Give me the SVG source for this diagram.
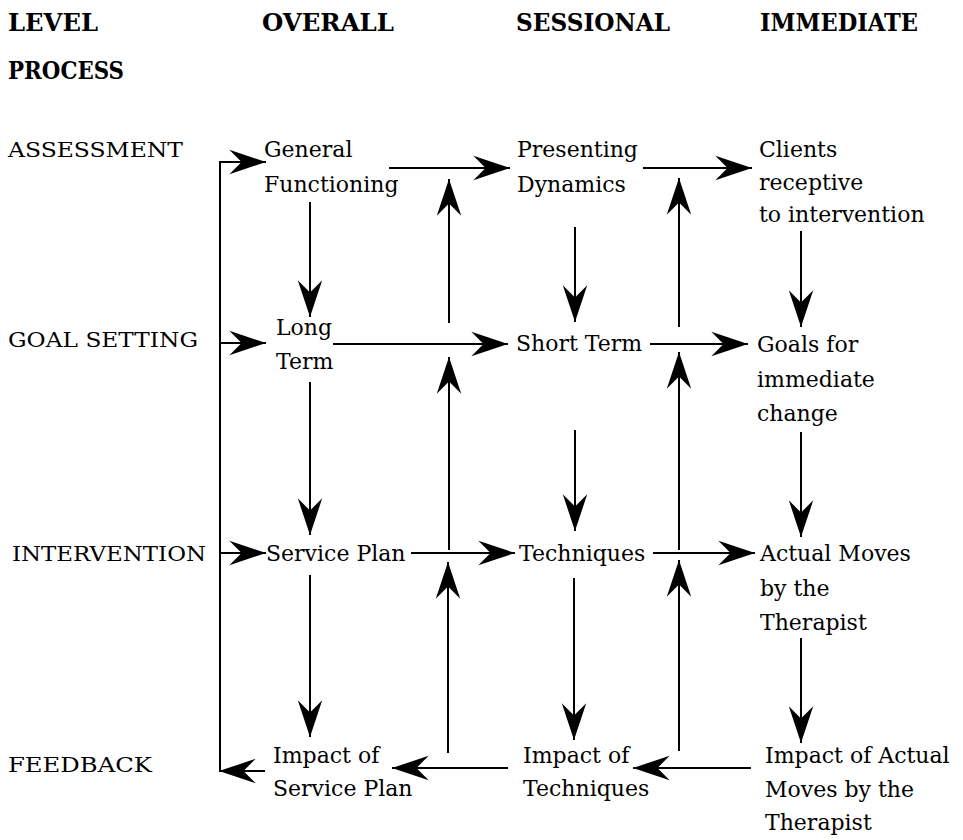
<svg xmlns="http://www.w3.org/2000/svg" width="963" height="840" viewBox="0 0 963 840">
<style>
.hd{font-family:"DejaVu Serif Condensed","DejaVu Serif","Liberation Serif",serif;font-weight:bold;font-size:25px;fill:#000}
.lb{font-family:"DejaVu Serif","Liberation Serif",serif;font-size:21px;fill:#000}
.tx{font-family:"DejaVu Serif","Liberation Serif",serif;font-size:22px;fill:#000}
.ln{stroke:#000;stroke-width:2;fill:none}
</style>
<defs>
<marker id="ah" markerUnits="userSpaceOnUse" markerWidth="40" markerHeight="30" viewBox="-34 -12 36 24" refX="0" refY="0" orient="auto">
<path d="M0,0 L-33,-11 L-22,0 L-33,11 Z" fill="#000"/>
</marker>
</defs>
<rect width="963" height="840" fill="#fff"/>
<g id="headers">
<text class="hd" x="8" y="31" textLength="90" lengthAdjust="spacingAndGlyphs">LEVEL</text>
<text class="hd" x="262" y="31" textLength="132" lengthAdjust="spacingAndGlyphs">OVERALL</text>
<text class="hd" x="516" y="31" textLength="154" lengthAdjust="spacingAndGlyphs">SESSIONAL</text>
<text class="hd" x="760" y="31" textLength="158" lengthAdjust="spacingAndGlyphs">IMMEDIATE</text>
<text class="hd" x="8" y="79" textLength="116" lengthAdjust="spacingAndGlyphs">PROCESS</text>
</g>
<g id="levels">
<text class="lb" x="8" y="157" textLength="175" lengthAdjust="spacingAndGlyphs">ASSESSMENT</text>
<text class="lb" x="8" y="347" textLength="190" lengthAdjust="spacingAndGlyphs">GOAL SETTING</text>
<text class="lb" x="12" y="561" textLength="194" lengthAdjust="spacingAndGlyphs">INTERVENTION</text>
<text class="lb" x="8" y="772" textLength="144" lengthAdjust="spacingAndGlyphs">FEEDBACK</text>
</g>
<g id="general-functioning"><text class="tx" x="264" y="157">General</text><text class="tx" x="264" y="192">Functioning</text></g>
<g id="presenting-dynamics"><text class="tx" x="517" y="157">Presenting</text><text class="tx" x="517" y="192">Dynamics</text></g>
<g id="clients-receptive"><text class="tx" x="759" y="157">Clients</text><text class="tx" x="759" y="190">receptive</text><text class="tx" x="759" y="222">to intervention</text></g>
<g id="long-term"><text class="tx" x="276" y="335">Long</text><text class="tx" x="276" y="369">Term</text></g>
<g id="short-term"><text class="tx" x="516" y="351">Short Term</text></g>
<g id="goals-immediate"><text class="tx" x="757" y="352">Goals for</text><text class="tx" x="757" y="387">immediate</text><text class="tx" x="757" y="421">change</text></g>
<g id="service-plan"><text class="tx" x="266" y="561">Service Plan</text></g>
<g id="techniques"><text class="tx" x="519" y="561">Techniques</text></g>
<g id="actual-moves"><text class="tx" x="760" y="561">Actual Moves</text><text class="tx" x="760" y="596">by the</text><text class="tx" x="760" y="630">Therapist</text></g>
<g id="impact-service-plan"><text class="tx" x="273" y="763">Impact of</text><text class="tx" x="273" y="796">Service Plan</text></g>
<g id="impact-techniques"><text class="tx" x="523" y="763">Impact of</text><text class="tx" x="523" y="796">Techniques</text></g>
<g id="impact-actual-moves"><text class="tx" x="765" y="763">Impact of Actual</text><text class="tx" x="765" y="797">Moves by the</text><text class="tx" x="765" y="830">Therapist</text></g>
<g id="connectors">
<path class="ln" d="M220,771 V162 H266" marker-end="url(#ah)"/>
<path class="ln" d="M220,343 H266" marker-end="url(#ah)"/>
<path class="ln" d="M220,553 H266" marker-end="url(#ah)"/>
<path class="ln" d="M265,771 H219" marker-end="url(#ah)"/>
<path class="ln" d="M389,168 H510" marker-end="url(#ah)"/>
<path class="ln" d="M643,168 H752" marker-end="url(#ah)"/>
<path class="ln" d="M333,344 H508" marker-end="url(#ah)"/>
<path class="ln" d="M650,344 H748" marker-end="url(#ah)"/>
<path class="ln" d="M411,553 H515" marker-end="url(#ah)"/>
<path class="ln" d="M653,553 H755" marker-end="url(#ah)"/>
<path class="ln" d="M751,768 H633" marker-end="url(#ah)"/>
<path class="ln" d="M508,768 H392" marker-end="url(#ah)"/>
<path class="ln" d="M310,202 V317" marker-end="url(#ah)"/>
<path class="ln" d="M310,382 V535" marker-end="url(#ah)"/>
<path class="ln" d="M310,575 V737" marker-end="url(#ah)"/>
<path class="ln" d="M575,227 V322" marker-end="url(#ah)"/>
<path class="ln" d="M575,430 V531" marker-end="url(#ah)"/>
<path class="ln" d="M574,578 V740" marker-end="url(#ah)"/>
<path class="ln" d="M801,231 V327" marker-end="url(#ah)"/>
<path class="ln" d="M801,432 V537" marker-end="url(#ah)"/>
<path class="ln" d="M801,638 V743" marker-end="url(#ah)"/>
<path class="ln" d="M449,323 V179" marker-end="url(#ah)"/>
<path class="ln" d="M449,550 V357" marker-end="url(#ah)"/>
<path class="ln" d="M448,753 V562" marker-end="url(#ah)"/>
<path class="ln" d="M679,327 V178" marker-end="url(#ah)"/>
<path class="ln" d="M679,550 V352" marker-end="url(#ah)"/>
<path class="ln" d="M679,751 V560" marker-end="url(#ah)"/>
</g>
</svg>
